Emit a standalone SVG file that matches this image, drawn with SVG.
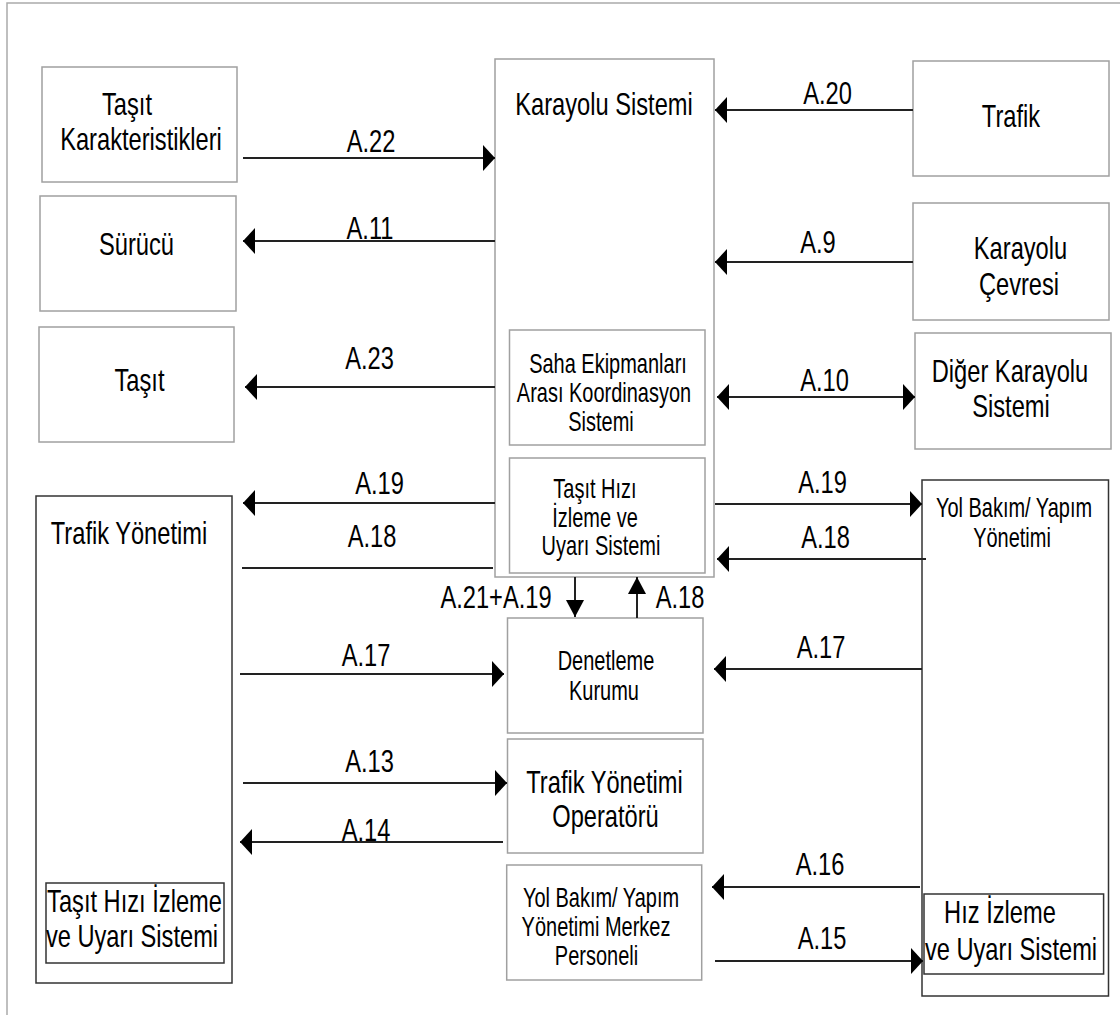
<svg xmlns="http://www.w3.org/2000/svg" width="1120" height="1015" viewBox="0 0 1120 1015">
<style>
.t{font-family:"Liberation Sans",Arial,sans-serif;font-size:32px;text-anchor:middle;fill:#000}
.s{font-size:27px}
.g{fill:#fff;stroke:#a0a0a0;stroke-width:1.5}
.d{fill:#fff;stroke:#333;stroke-width:1.5}
.c{stroke:#222;stroke-width:2;fill:none}
</style>
<defs>
<marker id="ah" markerUnits="userSpaceOnUse" markerWidth="12" markerHeight="26" refX="12" refY="13" orient="auto-start-reverse"><path d="M0,0 L12,13 L0,26 z" fill="#000"/></marker>
<marker id="av" markerUnits="userSpaceOnUse" markerWidth="17" markerHeight="18" refX="17" refY="9" orient="auto"><path d="M0,0 L17,9 L0,18 z" fill="#000"/></marker>
</defs>
<rect width="1120" height="1015" fill="#fff"/>
<path d="M1120,3 H7 V1015" fill="none" stroke="#aaa" stroke-width="1.5"/>

<g id="tasit-karakteristikleri">
<rect class="g" x="42" y="67" width="195" height="115"/>
<text class="t" transform="translate(127,115) scale(0.74,1)">Taşıt</text>
<text class="t" transform="translate(141,150) scale(0.74,1)">Karakteristikleri</text>
</g>
<g id="surucu">
<rect class="g" x="40" y="196" width="196" height="115"/>
<text class="t" transform="translate(136.5,255) scale(0.74,1)">Sürücü</text>
</g>
<g id="tasit">
<rect class="g" x="39" y="327" width="195" height="115"/>
<text class="t" transform="translate(139.5,391) scale(0.74,1)">Taşıt</text>
</g>
<g id="trafik-yonetimi">
<rect class="d" x="36" y="496" width="196" height="487"/>
<text class="t" transform="translate(129,544) scale(0.74,1)">Trafik Yönetimi</text>
<rect class="d" x="46" y="883" width="178" height="80"/>
<text class="t" transform="translate(134.5,912) scale(0.74,1)">Taşıt Hızı İzleme</text>
<text class="t" transform="translate(132,947) scale(0.74,1)">ve Uyarı Sistemi</text>
</g>
<g id="karayolu-sistemi">
<rect class="g" x="495" y="59" width="219" height="518"/>
<text class="t" transform="translate(604,115) scale(0.74,1)">Karayolu Sistemi</text>
</g>
<g id="saha-ekipmanlari">
<rect class="g" x="509.5" y="330" width="195.5" height="115"/>
<text class="t s" transform="translate(608,373) scale(0.74,1)">Saha Ekipmanları</text>
<text class="t s" transform="translate(604,402) scale(0.74,1)">Arası Koordinasyon</text>
<text class="t s" transform="translate(601,431) scale(0.74,1)">Sistemi</text>
</g>
<g id="tasit-hizi-izleme">
<rect class="g" x="509.5" y="458" width="195.5" height="115"/>
<text class="t s" transform="translate(595,498) scale(0.74,1)">Taşıt Hızı</text>
<text class="t s" transform="translate(595,527) scale(0.74,1)">İzleme ve</text>
<text class="t s" transform="translate(601,555) scale(0.74,1)">Uyarı Sistemi</text>
</g>
<g id="trafik">
<rect class="g" x="913" y="61" width="196" height="115"/>
<text class="t" transform="translate(1011,127) scale(0.74,1)">Trafik</text>
</g>
<g id="karayolu-cevresi">
<rect class="g" x="913" y="203" width="196" height="117"/>
<text class="t" transform="translate(1020.5,259) scale(0.74,1)">Karayolu</text>
<text class="t" transform="translate(1019,295) scale(0.74,1)">Çevresi</text>
</g>
<g id="diger-karayolu">
<rect class="g" x="915" y="333" width="196" height="116"/>
<text class="t" transform="translate(1010,382) scale(0.74,1)">Diğer Karayolu</text>
<text class="t" transform="translate(1011,417) scale(0.74,1)">Sistemi</text>
</g>
<g id="yol-bakim-yonetimi">
<rect class="d" x="922" y="480" width="186.5" height="516"/>
<text class="t s" transform="translate(1014,517) scale(0.74,1)">Yol Bakım/ Yapım</text>
<text class="t s" transform="translate(1012,547) scale(0.74,1)">Yönetimi</text>
<rect class="d" x="924" y="894" width="179.6" height="80"/>
<text class="t" transform="translate(1000,923) scale(0.74,1)">Hız İzleme</text>
<text class="t" transform="translate(1011,960) scale(0.74,1)">ve Uyarı Sistemi</text>
</g>
<g id="denetleme-kurumu">
<rect class="g" x="507.5" y="618" width="195.5" height="115"/>
<text class="t s" transform="translate(606,670) scale(0.74,1)">Denetleme</text>
<text class="t s" transform="translate(604,700) scale(0.74,1)">Kurumu</text>
</g>
<g id="trafik-yonetimi-operatoru">
<rect class="g" x="507.5" y="739" width="195.5" height="114"/>
<text class="t" transform="translate(604.5,793) scale(0.74,1)">Trafik Yönetimi</text>
<text class="t" transform="translate(605.5,827) scale(0.74,1)">Operatörü</text>
</g>
<g id="yol-bakim-merkez-personeli">
<rect class="g" x="506.7" y="865" width="195" height="115"/>
<text class="t s" transform="translate(601,907) scale(0.74,1)">Yol Bakım/ Yapım</text>
<text class="t s" transform="translate(596,936) scale(0.74,1)">Yönetimi Merkez</text>
<text class="t s" transform="translate(596.5,965) scale(0.74,1)">Personeli</text>
</g>

<g id="connectors">
<path class="c" d="M243,158 H495" marker-end="url(#ah)"/>
<path class="c" d="M495,241 H243" marker-end="url(#ah)"/>
<path class="c" d="M495,387 H245" marker-end="url(#ah)"/>
<path class="c" d="M495,503 H243" marker-end="url(#ah)"/>
<path class="c" d="M242,568 H493"/>
<path class="c" d="M575,577 V617" marker-end="url(#av)"/>
<path class="c" d="M637,618 V577" marker-end="url(#av)"/>
<path class="c" d="M913,110 H715" marker-end="url(#ah)"/>
<path class="c" d="M913,262 H715" marker-end="url(#ah)"/>
<path class="c" d="M717,397 H915" marker-start="url(#ah)" marker-end="url(#ah)"/>
<path class="c" d="M715,504 H922" marker-end="url(#ah)"/>
<path class="c" d="M926,559 H717" marker-end="url(#ah)"/>
<path class="c" d="M240,674 H504" marker-end="url(#ah)"/>
<path class="c" d="M922,669 H714" marker-end="url(#ah)"/>
<path class="c" d="M243,783 H507" marker-end="url(#ah)"/>
<path class="c" d="M503,842 H240" marker-end="url(#ah)"/>
<path class="c" d="M920,887 H712" marker-end="url(#ah)"/>
<path class="c" d="M715,961 H923" marker-end="url(#ah)"/>
<text class="t" transform="translate(371,152) scale(0.74,1)">A.22</text>
<text class="t" transform="translate(370,239) scale(0.74,1)">A.11</text>
<text class="t" transform="translate(369.5,369) scale(0.74,1)">A.23</text>
<text class="t" transform="translate(379.5,494) scale(0.74,1)">A.19</text>
<text class="t" transform="translate(372,547) scale(0.74,1)">A.18</text>
<text class="t" transform="translate(496,608) scale(0.74,1)">A.21+A.19</text>
<text class="t" transform="translate(680,608) scale(0.74,1)">A.18</text>
<text class="t" transform="translate(827.5,104) scale(0.74,1)">A.20</text>
<text class="t" transform="translate(818,253) scale(0.74,1)">A.9</text>
<text class="t" transform="translate(824.5,391) scale(0.74,1)">A.10</text>
<text class="t" transform="translate(822.5,493) scale(0.74,1)">A.19</text>
<text class="t" transform="translate(825.5,548) scale(0.74,1)">A.18</text>
<text class="t" transform="translate(366,666) scale(0.74,1)">A.17</text>
<text class="t" transform="translate(821,658) scale(0.74,1)">A.17</text>
<text class="t" transform="translate(369.5,772) scale(0.74,1)">A.13</text>
<text class="t" transform="translate(366,841) scale(0.74,1)">A.14</text>
<text class="t" transform="translate(820,875) scale(0.74,1)">A.16</text>
<text class="t" transform="translate(822,949) scale(0.74,1)">A.15</text>
</g>
</svg>
